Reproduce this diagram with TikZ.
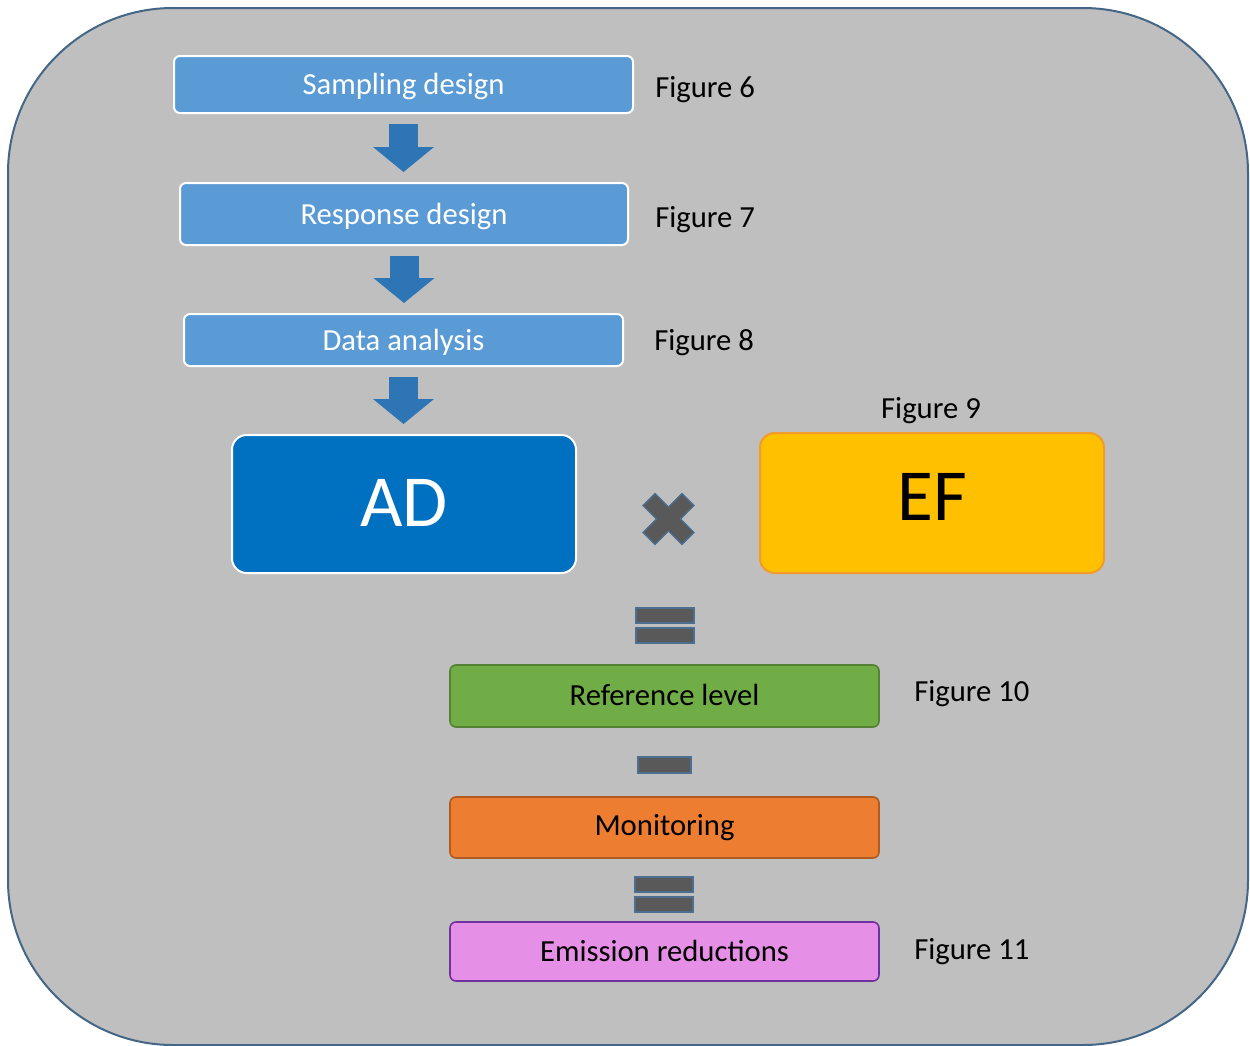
\documentclass[tikz,border=0pt]{standalone}
\usepackage{fontspec}
\setmainfont{Carlito}
\usetikzlibrary{arrows.meta}

\definecolor{panelgray}{RGB}{191,191,191}
\definecolor{panelline}{RGB}{68,102,135}
\definecolor{stepblue}{RGB}{91,155,213}
\definecolor{arrowblue}{RGB}{46,117,182}
\definecolor{adblue}{RGB}{0,112,192}
\definecolor{efyellow}{RGB}{255,192,0}
\definecolor{efline}{RGB}{240,155,45}
\definecolor{refgreen}{RGB}{112,173,71}
\definecolor{refline}{RGB}{84,130,53}
\definecolor{monorange}{RGB}{237,125,49}
\definecolor{monline}{RGB}{174,90,33}
\definecolor{erpink}{RGB}{230,143,230}
\definecolor{erline}{RGB}{112,48,160}
\definecolor{opgray}{RGB}{89,89,89}
\definecolor{opline}{RGB}{75,110,145}

\tikzset{
  stepbox/.style={draw=white, line width=1.5pt, fill=stepblue, rounded corners=4.5pt, text=white, inner sep=0pt, text height=19pt, text depth=4pt, font=\fontsize{23}{28}\selectfont},
  bigbox/.style={line width=1.5pt, rounded corners=11pt, inner sep=0pt, font=\fontsize{55}{66}\selectfont},
  resultbox/.style={line width=1.2pt, rounded corners=4.5pt, inner sep=0pt, minimum width=321.75pt, font=\fontsize{23}{28}\selectfont},
  figlabel/.style={inner sep=0pt, font=\fontsize{23}{28}\selectfont},
  blockarrow/.style={draw=arrowblue, line width=21.75pt, shorten <=7.5pt, shorten >=7.5pt, -{Triangle[length=18.75pt,width=45.75pt,line width=0pt]}},
  opsign/.style={fill=opgray, draw=opline, line width=1pt}
}

\begin{document}
\begin{tikzpicture}[x=0.75pt,y=0.75pt,yscale=-1,xscale=1]
\useasboundingbox (0,0) rectangle (1250,1046);

%Shape: Rounded Rect (panel)
\draw [fill=panelgray, draw=panelline, line width=1.5pt, rounded corners=123.75pt] (8,8) rectangle (1248,1045);

% Step boxes
\node [stepbox, minimum width=344.25pt, minimum height=42.75pt] (samp) at (403.5,84.5) {Sampling design};
\node [stepbox, minimum width=336pt, minimum height=46.5pt] (resp) at (404,214) {Response design};
\node [stepbox, minimum width=329.25pt, minimum height=39pt] (data) at (403.5,340) {Data analysis};

% Big boxes
\node [bigbox, fill=adblue, draw=white, text=white, minimum width=258pt, minimum height=103.5pt] (ad) at (404,504) {\raisebox{1.5pt}{AD}};
\node [bigbox, fill=efyellow, draw=efline, text=black, minimum width=258pt, minimum height=105pt] (ef) at (932,503) {\raisebox{9pt}{EF}};

% Result boxes
\node [resultbox, fill=refgreen, draw=refline, minimum height=46.5pt] (ref) at (664.5,696) {\raisebox{2pt}{Reference level}};
\node [resultbox, fill=monorange, draw=monline, minimum height=45.75pt] (mon) at (664.5,827.5) {Monitoring};
\node [resultbox, fill=erpink, draw=erline, minimum height=44.25pt] (er) at (664.5,951.5) {\raisebox{1pt}{Emission reductions}};

%Block Arrows
\draw [blockarrow] (samp.south) -- (samp.south |- resp.north);
\draw [blockarrow] (resp.south) -- (resp.south |- data.north);
\draw [blockarrow] (data.south) -- (data.south |- ad.north);

%Shape: Multiply
\draw [opsign, shift={(668.5,519)}, rotate=45] (8.5,8.5) -- (27.5,8.5) -- (27.5,-8.5) -- (8.5,-8.5) -- (8.5,-27.5) -- (-8.5,-27.5) -- (-8.5,-8.5) -- (-27.5,-8.5) -- (-27.5,8.5) -- (-8.5,8.5) -- (-8.5,27.5) -- (8.5,27.5) -- cycle;
%Shape: Equal
\draw [opsign] (636,608) rectangle (694,623);
\draw [opsign] (636,628) rectangle (694,643);
%Shape: Minus
\draw [opsign] (638,757) rectangle (691,773);
%Shape: Equal
\draw [opsign] (635,877) rectangle (693,892);
\draw [opsign] (635,897) rectangle (693,912);

% Text Node
\node [figlabel, anchor=west] (fig6) at (655,90) {Figure 6};
% Text Node
\node [figlabel, anchor=west] (fig7) at (655,220) {Figure 7};
% Text Node
\node [figlabel, anchor=west] (fig8) at (654,343) {Figure 8};
% Text Node
\node [figlabel] (fig9) at (931,411) {Figure 9};
% Text Node
\node [figlabel, anchor=west] (fig10) at (914,694) {Figure 10};
% Text Node
\node [figlabel, anchor=west] (fig11) at (914,952) {Figure 11};

\end{tikzpicture}
\end{document}
